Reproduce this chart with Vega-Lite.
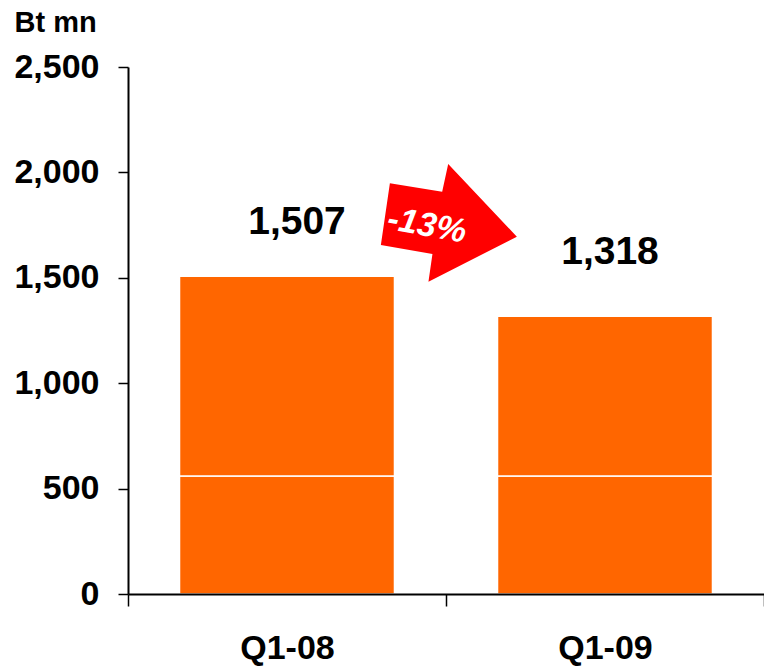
{
  "$schema": "https://vega.github.io/schema/vega-lite/v6.json",
  "autosize": {"type": "none"},
  "padding": {"left": 128, "top": 67, "right": 0, "bottom": 76},
  "width": 636,
  "height": 527,
  "background": "white",
  "config": {"view": {"stroke": null}},
  "datasets": {
    "bars": [
      {"quarter": "Q1-08", "segment": "a", "order": 1, "value": 560},
      {"quarter": "Q1-08", "segment": "b", "order": 2, "value": 947},
      {"quarter": "Q1-09", "segment": "a", "order": 1, "value": 560},
      {"quarter": "Q1-09", "segment": "b", "order": 2, "value": 758}
    ],
    "totals": [
      {"quarter": "Q1-08", "total": 1507},
      {"quarter": "Q1-09", "total": 1318}
    ],
    "arrow": [
      {"pos": 0.505, "val": 1760, "label": "-13%", "lpos": 0.47, "lval": 1746}
    ]
  },
  "layer": [
    {
      "layer": [
        {
          "data": {"name": "bars"},
          "mark": {"type": "bar", "color": "#FF6600", "stroke": "white", "strokeWidth": 1.5, "width": {"band": 0.676}},
          "encoding": {
            "x": {
              "field": "quarter", "type": "nominal", "title": null,
              "scale": {"paddingInner": 0, "paddingOuter": 0},
              "axis": {
                "labelAngle": 0, "labelFont": "Liberation Sans", "labelFontWeight": "bold", "labelFontSize": 34,
                "labelColor": "black", "labelPadding": 25, "tickBand": "extent", "tickSize": 12, "tickColor": "black",
                "tickWidth": 1.5, "domainColor": "black", "domainWidth": 2, "zindex": 1
              }
            },
            "y": {
              "field": "value", "type": "quantitative", "stack": "zero",
              "scale": {"domain": [0, 2500], "nice": false},
              "axis": {
                "values": [0, 500, 1000, 1500, 2000, 2500], "format": ",d", "grid": false,
                "labelFont": "Liberation Sans", "labelFontWeight": "bold", "labelFontSize": 34, "labelColor": "black",
                "labelPadding": 19, "tickSize": 10, "tickColor": "black", "tickWidth": 1.5,
                "domainColor": "black", "domainWidth": 2, "zindex": 1,
                "title": "Bt mn", "titleAngle": 0, "titleAlign": "left", "titleBaseline": "middle",
                "titleX": -114, "titleY": -45, "titleFont": "Liberation Sans", "titleFontWeight": "bold",
                "titleFontSize": 29, "titleColor": "black"
              }
            },
            "order": {"field": "order", "type": "quantitative"}
          }
        },
        {
          "data": {"name": "totals"},
          "transform": [{"filter": "datum.quarter == 'Q1-08'"}],
          "mark": {"type": "text", "font": "Liberation Sans", "fontWeight": "bold", "fontSize": 39, "color": "black", "baseline": "middle", "dy": -54, "dx": 10},
          "encoding": {
            "x": {"field": "quarter", "type": "nominal"},
            "y": {"field": "total", "type": "quantitative", "scale": {"domain": [0, 2500], "nice": false}, "axis": null},
            "text": {"field": "total", "type": "quantitative", "format": ","}
          }
        },
        {
          "data": {"name": "totals"},
          "transform": [{"filter": "datum.quarter == 'Q1-09'"}],
          "mark": {"type": "text", "font": "Liberation Sans", "fontWeight": "bold", "fontSize": 39, "color": "black", "baseline": "middle", "dy": -64, "dx": 5},
          "encoding": {
            "x": {"field": "quarter", "type": "nominal"},
            "y": {"field": "total", "type": "quantitative", "scale": {"domain": [0, 2500], "nice": false}, "axis": null},
            "text": {"field": "total", "type": "quantitative", "format": ","}
          }
        }
      ],
      "resolve": {"scale": {"y": "independent"}, "axis": {"y": "independent"}}
    },
    {
      "data": {"name": "arrow"},
      "layer": [
        {
          "mark": {
            "type": "point", "filled": true, "color": "#FF0000", "opacity": 1, "size": 19600,
            "shape": "M-0.847,-0.567 L-0.1,-0.447 L-0.014,-0.843 L0.967,0.196 L-0.296,0.839 L-0.239,0.443 L-0.976,0.314 Z"
          },
          "encoding": {
            "x": {"field": "pos", "type": "quantitative", "scale": {"domain": [0, 1]}, "axis": null},
            "y": {"field": "val", "type": "quantitative", "scale": {"domain": [0, 2500], "nice": false}, "axis": null}
          }
        },
        {
          "mark": {"type": "text", "font": "Liberation Sans", "fontWeight": "bold", "fontStyle": "italic", "fontSize": 34, "color": "white", "angle": 10, "baseline": "middle", "align": "center"},
          "encoding": {
            "x": {"field": "lpos", "type": "quantitative", "scale": {"domain": [0, 1]}, "axis": null},
            "y": {"field": "lval", "type": "quantitative", "scale": {"domain": [0, 2500], "nice": false}, "axis": null},
            "text": {"field": "label"}
          }
        }
      ]
    }
  ],
  "resolve": {"scale": {"x": "independent", "y": "independent"}, "axis": {"x": "independent", "y": "independent"}}
}
